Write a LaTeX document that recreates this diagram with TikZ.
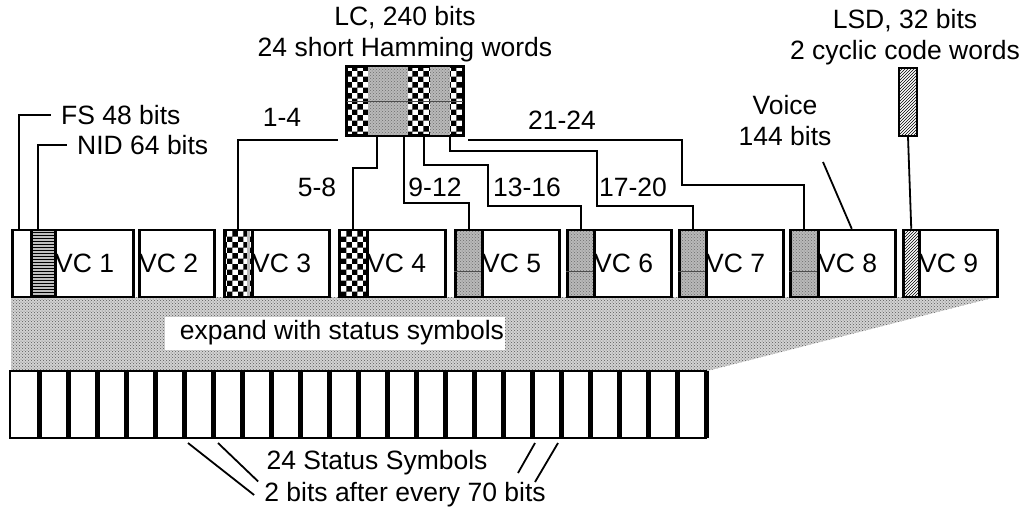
\documentclass[tikz,border=0pt]{standalone}
\usepackage{fontspec}
\setmainfont{Liberation Sans}
\usetikzlibrary{patterns}
\tikzset{
  lbl/.style={font=\fontsize{26.5}{31}\selectfont, inner sep=1pt},
  box/.style={draw, line width=2.5pt, minimum height=67pt, inner sep=0pt, anchor=west},
  chk/.style={box, pattern=checkerboard},
  grdot/.style={box, preaction={fill=gray!55}, pattern=crosshatch dots, pattern color=gray!85!black},
  wire/.style={line width=1.8pt},
}
\begin{document}
\begin{tikzpicture}[x=1pt,y=-1pt]
\useasboundingbox (0,0) rectangle (1024,512);

% expansion area
\fill[gray!35] (11,297) -- (996,297) -- (707,371) -- (11,371) -- cycle;
\fill[pattern=crosshatch dots, pattern color=gray!70!black] (11,297) -- (996,297) -- (707,371) -- (11,371) -- cycle;
\node[fill=white, minimum width=340pt, minimum height=33pt, inner sep=0pt] (exp) at (335,333.5) {};
\node[lbl] (expt) at (342,333) {expand with status symbols};

% voice channels
\node[box, minimum width=19pt] (fs) at (11,263.5) {};
\node[box, minimum width=24pt, preaction={fill=gray!50}, pattern=horizontal lines] (nid) at (30,263.5) {};
\node[chk, minimum width=28pt] (s3) at (223,263.5) {};
\node[chk, minimum width=28pt] (s4) at (338,263.5) {};
\node[grdot, minimum width=27pt] (s5) at (454,263.5) {};
\node[grdot, minimum width=27pt] (s6) at (566,263.5) {};
\node[grdot, minimum width=27pt] (s7) at (678,263.5) {};
\node[grdot, minimum width=28pt] (s8) at (789,263.5) {};
\node[box, minimum width=16pt, pattern=north east lines] (s9) at (902,263.5) {};
\fill[gray!55] (247,231) rectangle (250,296);
\foreach \s in {s5,s6,s7,s8}
  \draw[gray!60!black, line width=0.6pt] ([yshift=-8pt]\s.west) -- ([yshift=-8pt]\s.east);
\foreach \n/\x/\w in {1/54/78, 2/138/75, 3/251/77, 4/366/78, 5/481/77, 6/593/77, 7/705/77, 8/817/77, 9/918/78}{
  \node[box, minimum width=\w pt] (vc\n) at (\x,263.5) {};
  \node[lbl, anchor=west] (vct\n) at (vc\n.west) {VC \n};
}

% status symbols
\node[draw, line width=1.5pt, minimum width=696pt, minimum height=67pt, inner sep=0pt] (stat) at (358,404.5) {};
\foreach \k in {1,...,24}
  \draw[line width=5pt] ({10+29*\k},371) -- ({10+29*\k},438);

% LC block
\node[draw, line width=1.8pt, minimum width=116pt, minimum height=68pt, inner sep=0pt, pattern=checkerboard] (lc) at (405,101) {};
\fill[gray!55] (368,67) rectangle (408,135);
\fill[pattern=crosshatch dots, pattern color=gray!85!black] (368,67) rectangle (408,135);
\fill[gray!55] (430,67) rectangle (450,135);
\fill[pattern=crosshatch dots, pattern color=gray!85!black] (430,67) rectangle (450,135);
\draw[gray!60!black, line width=0.6pt] (lc.west) -- (lc.east);
\draw[line width=1.8pt] (lc.south west) rectangle (lc.north east);
\node[lbl, align=center] (lct) at (405,34) {LC, 240 bits\\24 short Hamming words};

% LSD block
\node[draw, line width=1.8pt, minimum width=18pt, minimum height=68pt, inner sep=0pt, pattern=north east lines] (lsd) at (908,102) {};
\node[lbl, align=center] (lsdt) at (905,37) {LSD, 32 bits\\2 cyclic code words};
\draw[wire] (lsd.south) -- (s9.north);

% FS and NID
\node[lbl, anchor=west] (fst) at (60,115) {FS 48 bits};
\node[lbl, anchor=west] (nidt) at (76,145) {NID 64 bits};
\draw[wire] ([xshift=-2.5pt]fs.north) |- ([xshift=-9pt]fst.west);
\draw[wire] ([xshift=-5pt]nid.north) |- ([xshift=-9pt]nidt.west);

% LC words to the sync slots
\coordinate (w14) at (338,140);
\coordinate (w2124) at (468,140);
\draw[wire] (w14) -| (s3.north);
\draw[wire] ([xshift=-28pt]lc.south) -- ++(0,32) -| (s4.north);
\draw[wire] ([xshift=-1pt]lc.south) -- ++(0,67) -| (s5.north);
\draw[wire] ([xshift=19pt]lc.south) -- ++(0,29) -- ++(64,0) -- ++(0,41) -| (s6.north);
\draw[wire] ([xshift=45pt]lc.south) -- ++(0,15) -- ++(147,0) -- ++(0,55) -| (s7.north);
\draw[wire] (w2124) -- ++(214,0) -- ++(0,45) -| (s8.north);
\node[lbl] (l14) at (282,117) {1-4};
\node[lbl] (l58) at (317,187) {5-8};
\node[lbl] (l912) at (435,187) {9-12};
\node[lbl] (l1316) at (527,187) {13-16};
\node[lbl] (l1720) at (633,187) {17-20};
\node[lbl] (l2124) at (562,120) {21-24};

% voice
\node[lbl, align=center] (voice) at (785,121) {Voice\\144 bits};
\coordinate (v0) at (823,162);
\draw[wire] (v0) -- ([xshift=-5pt]vc8.north);

% status symbol notes
\node[lbl] (sst) at (377,463) {24 Status Symbols};
\node[lbl] (sbt) at (405,495) {2 bits after every 70 bits};
\coordinate (b6) at (188,443);
\coordinate (b7) at (218,443);
\coordinate (b18) at (535,443);
\coordinate (b19) at (558,443);
\coordinate (e18) at (518,473);
\coordinate (e19) at (535,482);
\draw[wire] (b6) -- ([xshift=-9pt]sbt.west);
\draw[wire] (b7) -- ([xshift=-5pt]sbt.north west);
\draw[wire] (b18) -- (e18);
\draw[wire] (b19) -- (e19);
\end{tikzpicture}
\end{document}
